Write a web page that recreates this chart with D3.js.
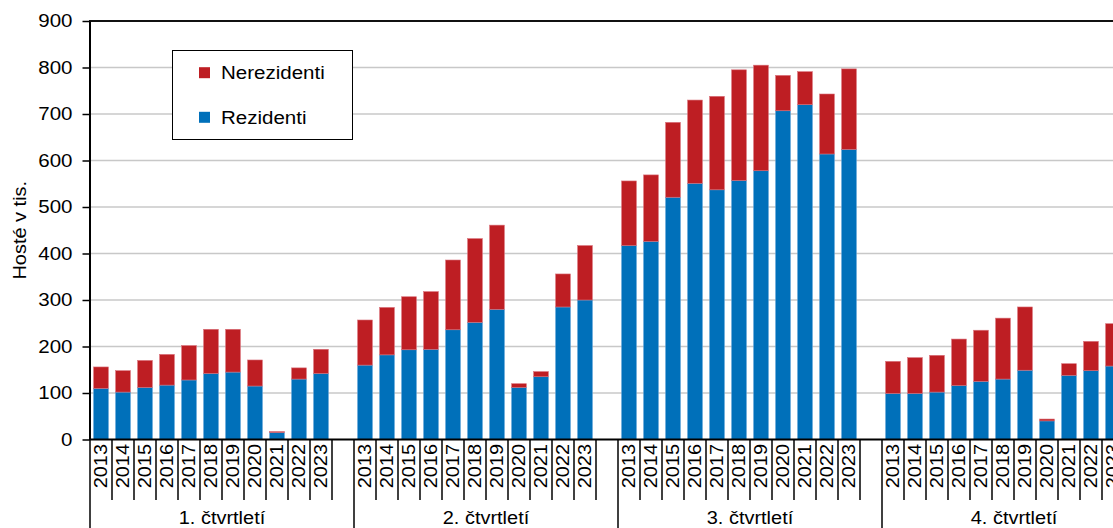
<!DOCTYPE html>
<html><head><meta charset="utf-8">
<script src="https://cdn.jsdelivr.net/npm/d3@7"></script>
<style>
html,body{margin:0;padding:0;background:#fff;overflow:hidden}
text{font-family:Arial,"Liberation Sans",sans-serif;fill:#000}
</style></head>
<body><svg id="c" width="1113" height="528"></svg>
<script>
const years = ["2013","2014","2015","2016","2017","2018","2019","2020","2021","2022","2023"];
const quarters = ["1. čtvrtletí","2. čtvrtletí","3. čtvrtletí","4. čtvrtletí"];
const rezidenti = [
  [110,102,112,117,128,142,145,115,15,130,142],
  [160,182,193,194,236,252,280,112,135,285,300],
  [417,426,521,551,537,557,578,707,720,614,624],
  [99,99,102,116,125,130,149,40,138,148,158]
];
const nerezidenti = [
  [46,46,58,66,74,95,92,56,2,24,52],
  [97,102,114,124,150,180,181,8,11,71,117],
  [139,143,161,179,201,238,227,76,71,129,173],
  [69,77,79,100,110,131,136,4,25,63,91]
];
const yTicks = [0,100,200,300,400,500,600,700,800,900];
const seriesNames = ["Nerezidenti","Rezidenti"];
const colors = {Nerezidenti:"#BE1E23", Rezidenti:"#0070BA"};

(function(){
const svg = d3.select("#c");
const W = 1113, H = 528;
const left = 90, slotW = 22, slotsPerQ = 12;
const nSlots = quarters.length * slotsPerQ;
const plotTop = 21, plotBottom = 439.5;
const STRETCH = 1.14;

function stretch(sel){
  sel.each(function(){
    const l = this.getComputedTextLength();
    this.setAttribute("textLength", l*STRETCH);
    this.setAttribute("lengthAdjust","spacingAndGlyphs");
  });
}

const slots = [];
quarters.forEach((q,qi)=>{
  years.forEach((yr)=>slots.push(qi+"-"+yr));
  slots.push(qi+"-blank");
});
const x = d3.scaleBand().domain(slots).range([left, left+nSlots*slotW]).paddingInner(0.33).paddingOuter(0.165);
const xs = d3.scaleLinear().domain([0,nSlots]).range([left, left+nSlots*slotW]);
const y = d3.scaleLinear().domain([0,900]).range([plotBottom, plotTop]);

svg.append("g").selectAll("line").data(yTicks.filter(d=>d>0 && d<900)).join("line")
  .attr("x1",left).attr("x2",W).attr("y1",d=>y(d)).attr("y2",d=>y(d))
  .attr("stroke","#c8c8c8").attr("stroke-width",1.5);
svg.append("line").attr("x1",left-1).attr("x2",W).attr("y1",y(900)).attr("y2",y(900))
  .attr("stroke","#111").attr("stroke-width",2);

const rows = [];
quarters.forEach((q,qi)=>years.forEach((yr,yi)=>{
  rows.push({key:qi+"-"+yr, Rezidenti:rezidenti[qi][yi], Nerezidenti:nerezidenti[qi][yi]});
}));
const stack = d3.stack().keys(["Rezidenti","Nerezidenti"])(rows);
svg.append("g").selectAll("g").data(stack).join("g")
  .attr("fill",d=>colors[d.key])
  .attr("stroke",d=>d.key==="Rezidenti"?"#5aa0d6":"#d9707a").attr("stroke-width",0.6)
  .selectAll("rect").data(d=>d).join("rect")
  .attr("x",d=>x(d.data.key)).attr("width",x.bandwidth())
  .attr("y",d=>y(d[1])).attr("height",d=>y(d[0])-y(d[1]));

const ya = svg.append("g").attr("transform",`translate(${left-0.5},0)`)
  .call(d3.axisLeft(y).tickValues(yTicks).tickSize(7).tickSizeOuter(0).tickPadding(10));
ya.select(".domain").attr("stroke","#000").attr("stroke-width",2);
ya.selectAll(".tick line").attr("stroke","#000").attr("stroke-width",1.5);
ya.selectAll(".tick text").attr("font-size",18).attr("font-family","Arial, 'Liberation Sans', sans-serif").attr("fill","#000").call(stretch);

svg.append("text").attr("transform",`translate(20,${(plotTop+plotBottom)/2}) rotate(-90)`)
  .attr("text-anchor","middle").attr("dy","0.36em").attr("font-size",17.5).text("Hosté v tis.").call(stretch);

svg.append("line").attr("x1",left-1).attr("x2",W).attr("y1",plotBottom).attr("y2",plotBottom)
  .attr("stroke","#000").attr("stroke-width",2);

const sepIdx = [];
quarters.forEach((q,qi)=>{ for(let i=1;i<=years.length;i++) sepIdx.push(qi*slotsPerQ+i); });
svg.append("g").selectAll("line").data(sepIdx).join("line")
  .attr("x1",d=>xs(d)).attr("x2",d=>xs(d)).attr("y1",plotBottom).attr("y2",500)
  .attr("stroke","#000").attr("stroke-width",1.5);
const grpIdx = d3.range(quarters.length+1).map(i=>i*slotsPerQ);
svg.append("g").selectAll("line").data(grpIdx).join("line")
  .attr("x1",d=>xs(d)).attr("x2",d=>xs(d)).attr("y1",plotBottom).attr("y2",H)
  .attr("stroke","#000").attr("stroke-width",1.5);

svg.append("g").selectAll("text").data(rows).join("text")
  .attr("transform",d=>`translate(${x(d.key)+x.bandwidth()/2},444) rotate(-90)`)
  .attr("text-anchor","end").attr("dy","0.36em").attr("font-size",17.5)
  .text(d=>d.key.split("-")[1]).call(stretch);

svg.append("g").selectAll("text").data(quarters).join("text")
  .attr("x",(d,i)=>xs(i*slotsPerQ+slotsPerQ/2)).attr("y",524)
  .attr("text-anchor","middle").attr("font-size",17.5).text(d=>d).call(stretch);

const lg = svg.append("g");
lg.append("rect").attr("x",172.5).attr("y",50.5).attr("width",180).attr("height",89)
  .attr("fill","#fff").attr("stroke","#000").attr("stroke-width",1);
seriesNames.forEach((n,i)=>{
  const cy = 72.7 + i*44.6;
  lg.append("rect").attr("x",199).attr("y",cy-5.5).attr("width",11).attr("height",11).attr("fill",colors[n]);
  lg.append("text").attr("x",221).attr("y",cy).attr("dy","0.36em").attr("font-size",18).text(n).call(stretch);
});
})();
</script></body></html>
